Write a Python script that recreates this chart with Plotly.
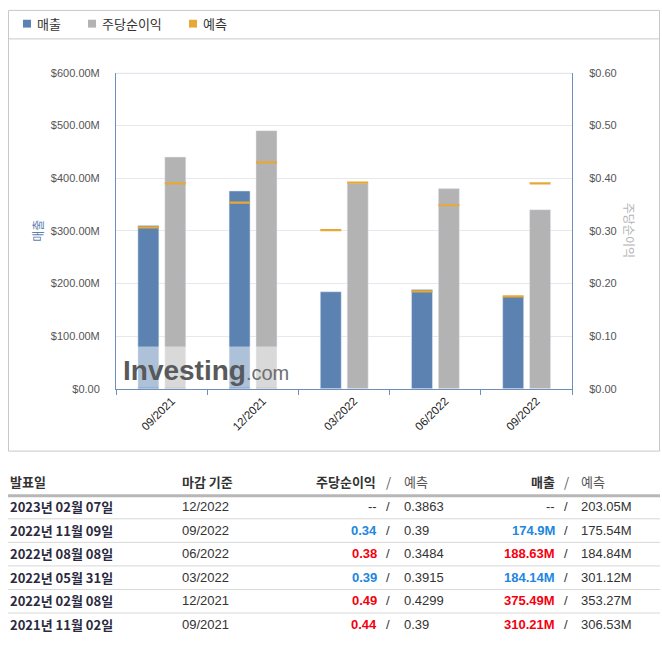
import plotly.graph_objects as go

# %% 데이터
periods = ["09/2021", "12/2021", "03/2022", "06/2022", "09/2022"]
revenue = [310.21, 375.49, 184.14, 188.63, 174.9]          # 백만 달러
revenue_fc = [306.53, 353.27, 301.12, 184.84, 175.54]
eps = [0.44, 0.49, 0.39, 0.38, 0.34]
eps_fc = [0.39, 0.4299, 0.3915, 0.3484, 0.39]

rev_ticks = [0, 100, 200, 300, 400, 500, 600]
rev_ticktext = ["$0.00", "$100.00M", "$200.00M", "$300.00M", "$400.00M", "$500.00M", "$600.00M"]
eps_ticks = [0, 0.1, 0.2, 0.3, 0.4, 0.5, 0.6]
eps_ticktext = ["$0.00", "$0.10", "$0.20", "$0.30", "$0.40", "$0.50", "$0.60"]

legend_names = ["매출", "주당순이익", "예측"]

# 표
release = ["2023년 02월 07일", "2022년 11월 09일", "2022년 08월 08일",
           "2022년 05월 31일", "2022년 02월 08일", "2021년 11월 02일"]
period_end = ["12/2022", "09/2022", "06/2022", "03/2022", "12/2021", "09/2021"]
eps_act_t = ["--", "0.34", "0.38", "0.39", "0.49", "0.44"]
eps_fc_t = ["0.3863", "0.39", "0.3484", "0.3915", "0.4299", "0.39"]
rev_act_t = ["--", "174.9M", "188.63M", "184.14M", "375.49M", "310.21M"]
rev_fc_t = ["203.05M", "175.54M", "184.84M", "301.12M", "353.27M", "306.53M"]

# %% 스타일
W, H = 662, 647
BLUE = "#5b82b0"
GREY = "#b3b3b3"
ORANGE = "#e8a838"
AXIS = "#6f8fba"
UP = "#f5000f"
DOWN = "#2186e0"
KR = "Noto Sans CJK KR"
LAT = "Liberation Sans, Noto Sans CJK KR"


def px(x):
    return x / W


def py(y):
    return 1 - y / H


BW = 0.23
OFF_REV = -0.26
OFF_EPS = 0.035
xs = list(range(len(periods)))

fig = go.Figure()

fig.add_trace(go.Bar(x=periods, y=revenue, name="매출", marker_color=BLUE,
                     width=BW, offset=OFF_REV, xaxis="x", yaxis="y"))
fig.add_trace(go.Bar(x=periods, y=eps, name="주당순이익", marker_color=GREY,
                     width=BW, offset=OFF_EPS, xaxis="x", yaxis="y2"))

fig.add_trace(go.Scatter(x=[i + OFF_REV + BW / 2 for i in xs], y=revenue_fc, mode="markers",
                         marker=dict(symbol="line-ew", size=15, line=dict(color=ORANGE, width=2.2)),
                         xaxis="x2", yaxis="y", name="예측"))
fig.add_trace(go.Scatter(x=[i + OFF_EPS + BW / 2 for i in xs], y=eps_fc, mode="markers",
                         marker=dict(symbol="line-ew", size=15, line=dict(color=ORANGE, width=2.2)),
                         xaxis="x2", yaxis="y2", name="예측"))

dom_x = [px(116), px(572)]
dom_y = [py(390), py(68)]

fig.update_layout(
    width=W,
    height=H,
    margin=dict(l=0, r=0, t=0, b=0),
    paper_bgcolor="white",
    plot_bgcolor="white",
    showlegend=False,
    font=dict(family=LAT, size=11, color="#333"),
    xaxis=dict(type="category", categoryorder="array", categoryarray=periods,
               domain=dom_x, range=[-0.5, 4.5], tickson="boundaries",
               ticks="outside", ticklen=5, tickcolor=AXIS, showline=True, linecolor=AXIS,
               tickangle=-45, showgrid=False, tickfont=dict(size=11.5, color="#222"),
               ticklabelshift=10, fixedrange=True),
    xaxis2=dict(overlaying="x", domain=dom_x, range=[-0.5, 4.5], visible=False, fixedrange=True),
    yaxis=dict(domain=dom_y, range=[0, 600], tickvals=rev_ticks, ticktext=rev_ticktext,
               showline=True, linecolor=AXIS, gridcolor="#e6e8ee", zeroline=False,
               ticklabelstandoff=13, tickfont=dict(size=11, color="#555"), fixedrange=True),
    yaxis2=dict(overlaying="y", side="right", range=[0, 0.6], tickvals=eps_ticks,
                ticktext=eps_ticktext, showline=True, linecolor=AXIS, showgrid=False,
                zeroline=False, ticklabelstandoff=14, tickfont=dict(size=11, color="#555"),
                fixedrange=True),
)

shapes = []
ann = []

# 차트 테두리와 범례 구분선
shapes.append(dict(type="rect", xref="paper", yref="paper", x0=px(8.5), x1=px(659.5),
                   y0=py(453.5), y1=py(4.5), line=dict(color="#c8c8c8", width=1)))
shapes.append(dict(type="line", xref="paper", yref="paper", x0=px(8.5), x1=px(659.5),
                   y0=py(33.5), y1=py(33.5), line=dict(color="#c8c8c8", width=1)))

# 맨 위 격자선 (조금 두꺼움)
shapes.append(dict(type="line", xref="x domain", yref="y", x0=0, x1=1, y0=rev_ticks[-1], y1=rev_ticks[-1],
                   line=dict(color="#e3e8f0", width=2.5), layer="below"))

# 범례
for name, col, x0 in zip(legend_names, [BLUE, GREY, ORANGE], [23, 88, 189]):
    shapes.append(dict(type="rect", xref="paper", yref="paper", x0=px(x0), x1=px(x0 + 8),
                       y0=py(22), y1=py(14), fillcolor=col, line=dict(width=0)))
    ann.append(dict(text=name, x=px(x0 + 12), y=py(18), xref="paper", yref="paper",
                    xanchor="left", yanchor="middle", showarrow=False,
                    font=dict(family=KR, size=13, color="#333")))

# 축 제목
ann.append(dict(text="매출", x=px(38), y=py(229), xref="paper", yref="paper", textangle=-90,
                xanchor="center", yanchor="middle",
                showarrow=False, font=dict(family=KR, size=12, color=BLUE)))
ann.append(dict(text="주당순이익", x=px(629), y=py(228), xref="paper", yref="paper", textangle=90,
                xanchor="center", yanchor="middle",
                showarrow=False, font=dict(family=KR, size=12, color=GREY)))

# 워터마크
shapes.append(dict(type="rect", xref="paper", yref="paper", x0=px(117), x1=px(285),
                   y0=py(389), y1=py(347), fillcolor="rgba(255,255,255,0.5)", line=dict(width=0)))
ann.append(dict(text="<b>Investing</b><span style='font-size:20px;color:#6d6e71;font-weight:normal'>.com</span>",
                x=px(121), y=py(371), xref="paper", yref="paper", xanchor="left", yanchor="middle",
                showarrow=False, font=dict(family="Liberation Sans", size=28, color="#58595b")))

# 표
HDR_Y = 484
ROW_Y0 = 510
ROW_H = 24


def t(text, x, y, anchor="left", size=12.5, color="#333", family=KR):
    ann.append(dict(text=text, x=px(x), y=py(y), xref="paper", yref="paper", xanchor=anchor,
                    yanchor="middle", showarrow=False, font=dict(family=family, size=size, color=color)))


t("<b>발표일</b>", 8, HDR_Y, size=13)
t("<b>마감 기준</b>", 180, HDR_Y, size=13)
t("<b>주당순이익</b>", 378, HDR_Y, anchor="right", size=13)
t("/", 384, HDR_Y, size=13, color="#555")
t("예측", 402, HDR_Y, size=13, color="#555")
t("<b>매출</b>", 557, HDR_Y, anchor="right", size=13)
t("/", 562, HDR_Y, size=13, color="#555")
t("예측", 579, HDR_Y, size=13, color="#555")

shapes.append(dict(type="line", xref="paper", yref="paper", x0=px(8), x1=px(660),
                   y0=py(499), y1=py(499), line=dict(color="#b7b7b7", width=3)))


def color_for(a, f):
    if a == "--":
        return "#333"
    av = float(a.rstrip("M"))
    fv = float(f.rstrip("M"))
    return UP if av > fv else DOWN


for i in range(len(release)):
    y = ROW_Y0 + i * ROW_H
    t("<b>" + release[i] + "</b>", 8, y, size=13, color="#2b2a40")
    t(period_end[i], 180, y, family=LAT, size=13)
    ea = eps_act_t[i]
    ra = rev_act_t[i]
    t(ea if ea == "--" else "<b>" + ea + "</b>", 379, y, anchor="right", family=LAT, size=13,
      color=color_for(ea, eps_fc_t[i]))
    t("/", 384, y, family=LAT, size=13)
    t(eps_fc_t[i], 402, y, family=LAT, size=13)
    t(ra if ra == "--" else "<b>" + ra + "</b>", 557, y, anchor="right", family=LAT, size=13,
      color=color_for(ra, rev_fc_t[i]))
    t("/", 562, y, family=LAT, size=13)
    t(rev_fc_t[i], 579, y, family=LAT, size=13)
    if i < len(release) - 1:
        shapes.append(dict(type="line", xref="paper", yref="paper", x0=px(8), x1=px(660),
                           y0=py(y + 12.5), y1=py(y + 12.5), line=dict(color="#d8d8d8", width=1)))

fig.update_layout(shapes=shapes, annotations=ann)

# 페이지 기본 여백 제거
fig.write_html("out.html", config={"displayModeBar": False},
               post_script="document.body.style.margin='0';document.body.style.overflow='hidden';")
